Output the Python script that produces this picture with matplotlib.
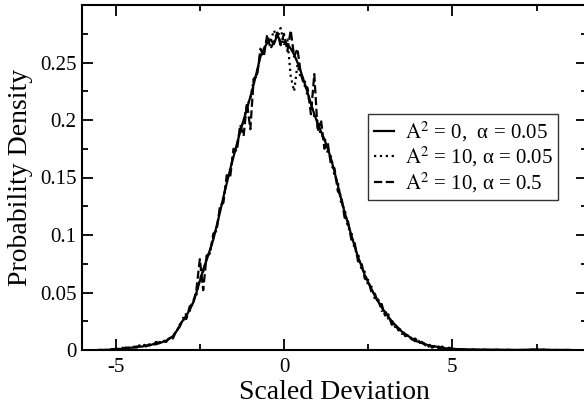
import numpy as np
import matplotlib
matplotlib.use("Agg")
import matplotlib.pyplot as plt
from matplotlib.ticker import MultipleLocator

plt.rcParams["font.family"] = ["Liberation Serif", "DejaVu Serif"]
plt.rcParams["mathtext.fontset"] = "stix"

# bin centres: sparse tails + 0.1 grid over the core
x_left = [-5.5, -5.3, -5.1]
x_core = list(np.round(np.arange(-5.0, 5.01, 0.1), 1))
x_right = [5.3, 5.6, 6.0, 6.5, 7.0, 7.5, 8.0, 8.5]
x = x_left + x_core + x_right

tail_left = [0.0, 0.0, 0.0005]
tail_right = [0.0005, 0.0003, 0.0002, 0.0001, 0.0, 0.0003, 0.0, 0.0]

# A^2 = 0, alpha = 0.05 (solid)
solid_core = [
    0.001, 0.001, 0.001, 0.002, 0.002, 0.002, 0.003, 0.003, 0.003, 0.004,
    0.004, 0.005, 0.005, 0.006, 0.007, 0.008, 0.010, 0.012, 0.016, 0.021,
    0.026, 0.030, 0.035, 0.041, 0.050, 0.060, 0.070, 0.078, 0.087, 0.096,
    0.108, 0.120, 0.133, 0.145, 0.157, 0.168, 0.179, 0.190, 0.200, 0.210,
    0.220, 0.231, 0.243, 0.255, 0.262, 0.267, 0.270, 0.266, 0.274, 0.268,
    0.268, 0.266, 0.262, 0.257, 0.250, 0.242, 0.233, 0.224, 0.214, 0.205,
    0.197, 0.190, 0.183, 0.175, 0.166, 0.155, 0.143, 0.131, 0.120, 0.110,
    0.100, 0.090, 0.081, 0.073, 0.065, 0.059, 0.053, 0.047, 0.042, 0.037,
    0.033, 0.029, 0.025, 0.022, 0.019, 0.016, 0.014, 0.012, 0.010, 0.008,
    0.007, 0.006, 0.005, 0.004, 0.0035, 0.003, 0.0025, 0.002, 0.0015, 0.001, 0.001,
]

# A^2 = 10, alpha = 0.05 (dotted)
dotted_core = [
    0.000, 0.001, 0.002, 0.001, 0.002, 0.003, 0.002, 0.004, 0.003, 0.005,
    0.004, 0.006, 0.005, 0.007, 0.006, 0.009, 0.010, 0.013, 0.015, 0.022,
    0.025, 0.032, 0.034, 0.043, 0.048, 0.062, 0.068, 0.080, 0.085, 0.098,
    0.106, 0.123, 0.131, 0.147, 0.155, 0.171, 0.177, 0.193, 0.198, 0.213,
    0.218, 0.235, 0.240, 0.258, 0.260, 0.272, 0.268, 0.278, 0.271, 0.280,
    0.266, 0.270, 0.238, 0.225, 0.248, 0.236, 0.237, 0.220, 0.216, 0.203,
    0.199, 0.186, 0.186, 0.171, 0.168, 0.151, 0.146, 0.127, 0.123, 0.106,
    0.103, 0.087, 0.084, 0.070, 0.068, 0.056, 0.055, 0.044, 0.044, 0.034,
    0.035, 0.027, 0.026, 0.020, 0.020, 0.014, 0.015, 0.010, 0.011, 0.007,
    0.008, 0.005, 0.006, 0.003, 0.004, 0.002, 0.003, 0.001, 0.002, 0.001, 0.001,
]

# A^2 = 10, alpha = 0.5 (dashed)
dashed_core = [
    0.001, 0.000, 0.001, 0.002, 0.001, 0.003, 0.002, 0.003, 0.005, 0.003,
    0.005, 0.004, 0.007, 0.006, 0.008, 0.007, 0.011, 0.010, 0.017, 0.020,
    0.028, 0.027, 0.038, 0.040, 0.053, 0.079, 0.052, 0.082, 0.084, 0.101,
    0.104, 0.125, 0.128, 0.152, 0.150, 0.175, 0.173, 0.196, 0.186, 0.215,
    0.192, 0.236, 0.238, 0.262, 0.255, 0.274, 0.262, 0.268, 0.276, 0.265,
    0.275, 0.260, 0.278, 0.255, 0.262, 0.240, 0.230, 0.228, 0.205, 0.240,
    0.190, 0.200, 0.175, 0.180, 0.160, 0.158, 0.138, 0.134, 0.115, 0.112,
    0.096, 0.093, 0.077, 0.076, 0.062, 0.061, 0.050, 0.049, 0.040, 0.040,
    0.030, 0.031, 0.022, 0.023, 0.017, 0.018, 0.012, 0.013, 0.009, 0.010,
    0.006, 0.007, 0.004, 0.005, 0.002, 0.004, 0.001, 0.003, 0.000, 0.002, 0.001,
]

series = [
    (tail_left + solid_core + tail_right, "-", r"$\mathrm{A}^2$ = 0,  α = 0.05"),
    (tail_left + dotted_core + tail_right, ":", r"$\mathrm{A}^2$ = 10, α = 0.05"),
    (tail_left + dashed_core + tail_right, "--", r"$\mathrm{A}^2$ = 10, α = 0.5"),
]

fig = plt.figure(figsize=(5.84, 4.13), dpi=100)
ax = fig.add_axes([82 / 584, 63 / 413, 505 / 584, 345 / 413])

for y, ls, lab in series:
    ax.plot(x, y, ls, color="black", lw=1.6, label=lab)

ax.set_xlim(-6, 9)
ax.set_ylim(0, 0.3)
ax.xaxis.set_minor_locator(MultipleLocator(2.5))
ax.yaxis.set_minor_locator(MultipleLocator(0.025))
ax.set_yticks([0, 0.05, 0.1, 0.15, 0.2, 0.25])
ax.set_yticklabels(["0", "0.05", "0.1", "0.15", "0.2", "0.25"])
ax.set_xticks([-5, 0, 5])
ax.set_xticklabels(["-5", "0", "5"])
ax.tick_params(which="both", direction="in", top=True, right=True,
               labelsize=15, width=1.3)
ax.tick_params(axis="x", pad=6)
ax.tick_params(axis="y", pad=4)
ax.tick_params(which="major", length=8)
ax.tick_params(which="minor", length=4.5)
for sp in ax.spines.values():
    sp.set_linewidth(1.5)

ax.set_xlabel("Scaled Deviation", fontsize=20, labelpad=2)
ax.set_ylabel("Probability Density", fontsize=20, labelpad=5)

leg = ax.legend(loc="upper left", bbox_to_anchor=(0.567, 0.683), fontsize=15,
                frameon=True, fancybox=False, handlelength=1.0,
                handletextpad=0.5, borderpad=0.25, labelspacing=0.05,
                borderaxespad=0)
leg.get_frame().set_edgecolor("black")
leg.get_frame().set_linewidth(1.0)

fig.savefig("out.png", dpi=100)
